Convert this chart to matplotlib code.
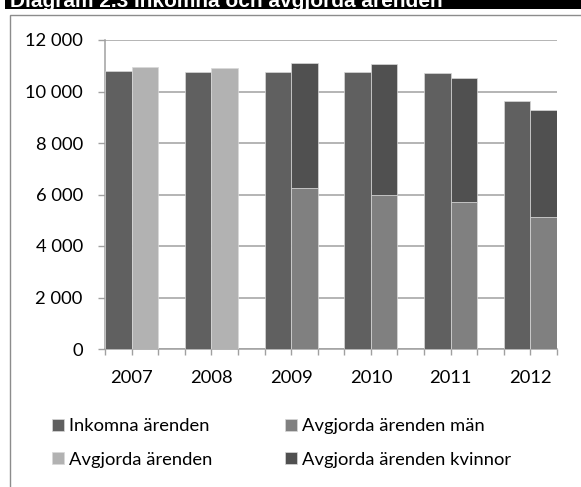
import numpy as np
import matplotlib
matplotlib.use('Agg')
from matplotlib import pyplot as plt
from matplotlib.patches import Rectangle

# data
years = ['2007', '2008', '2009', '2010', '2011', '2012']
inkomna = np.array([10800, 10740, 10770, 10740, 10700, 9620])
avgjorda = np.array([10960, 10900, np.nan, np.nan, np.nan, np.nan])
avgjorda_man = np.array([np.nan, np.nan, 6250, 5990, 5710, 5130])
avgjorda_kvinnor = np.array([np.nan, np.nan, 4870, 5080, 4810, 4150])

c_ink = '#606060'
c_avg = '#b2b2b2'
c_man = '#808080'
c_kvi = '#505050'
grid_c = '#a0a0a0'

plt.rcParams['font.family'] = ['Lato', 'DejaVu Sans']

W, H = 581, 487
fig = plt.figure(figsize=(W / 100, H / 100), dpi=100)
ax = fig.add_axes([105 / W, 1 - 349 / H, (557 - 105) / W, (349 - 40) / H])

# each year takes three slots: inkomna, avgjorda, gap
x_ink = np.arange(len(years)) * 3
x_avg = x_ink + 1
bar_kw = dict(width=1, align='edge', edgecolor='#d8d8d8', linewidth=0.5, zorder=3)

b1 = ax.bar(x_ink, inkomna, color=c_ink, **bar_kw)
b3 = ax.bar(x_avg, np.nan_to_num(avgjorda_man), color=c_man, **bar_kw)
b4 = ax.bar(x_avg, np.nan_to_num(avgjorda_kvinnor), bottom=np.nan_to_num(avgjorda_man), color=c_kvi, **bar_kw)
b2 = ax.bar(x_avg, np.nan_to_num(avgjorda), color=c_avg, **bar_kw)

ax.set_xlim(0, 3 * len(years) - 1)
ax.set_ylim(0, 12000)
ax.set_yticks(np.arange(0, 12001, 2000))
ax.set_yticklabels([f'{v:,}'.replace(',', ' ') for v in range(0, 12001, 2000)])
ax.yaxis.grid(True, color=grid_c, linewidth=1.1, zorder=0)
ax.set_axisbelow(True)

# labels at pair centres, tick marks at every slot edge
ax.xaxis.remove_overlapping_locs = False
ax.set_xticks(x_ink + 1)
ax.set_xticklabels(years)
ax.set_xticks(np.arange(0, 3 * len(years)), minor=True)
ax.tick_params(axis='x', which='minor', length=4.5, width=1, color=grid_c, direction='out')
ax.tick_params(axis='x', which='major', length=0, pad=15, labelsize=13.2)
ax.tick_params(axis='y', length=5, width=1, color=grid_c, pad=11, labelsize=13.2)

for s in ['top', 'right']:
    ax.spines[s].set_visible(False)
for s in ['left', 'bottom']:
    ax.spines[s].set_color(grid_c)
    ax.spines[s].set_linewidth(1.1)

# legend, filled column-wise
leg = fig.legend([b1, b2, b3, b4],
                 ['Inkomna ärenden', 'Avgjorda ärenden', 'Avgjorda ärenden män', 'Avgjorda ärenden kvinnor'],
                 ncol=2, loc='center left', bbox_to_anchor=(43 / W, 1 - 443 / H),
                 frameon=False, fontsize=13.2, handlelength=0.65, handleheight=0.65,
                 handletextpad=0.25, columnspacing=4.0, labelspacing=0.95, borderpad=0)

# chart frame and title band (cut off at the top as in the reference)
fig.patches.append(Rectangle((10 / W, -0.1), 1.2, 1 - 15 / H + 0.1, transform=fig.transFigure,
                             fill=False, edgecolor='#8c8c8c', linewidth=1.0))
fig.patches.append(Rectangle((5 / W, 1 - 9 / H), 1.2, 0.2, transform=fig.transFigure,
                             facecolor='black', edgecolor='none'))
fig.text(10 / W, 1 - 7 / H, 'Diagram 2.3 Inkomna och avgjorda ärenden', color='white',
         fontsize=15, fontweight='bold', family=['Liberation Sans', 'DejaVu Sans'], va='baseline', ha='left')

fig.savefig('out.png', dpi=100)
